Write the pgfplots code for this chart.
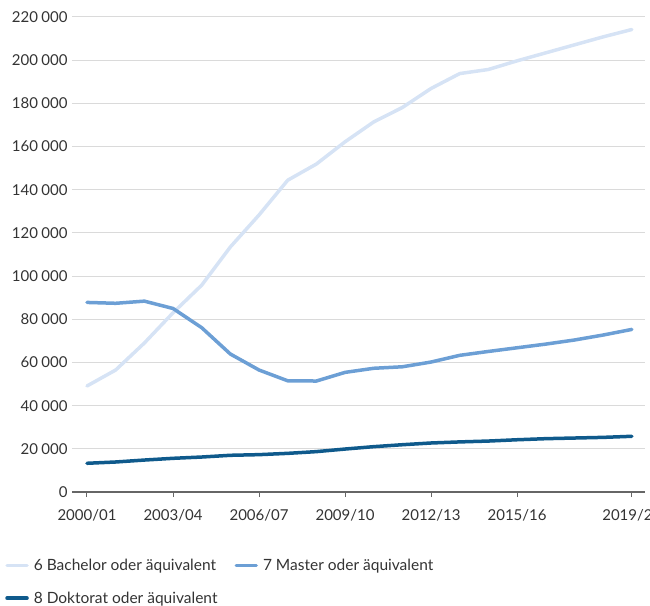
\documentclass[border=0pt]{standalone}
\usepackage{fontspec}
\setmainfont{Lato}
\usepackage{pgfplots}
\pgfplotsset{compat=1.18}
\definecolor{bach}{HTML}{D6E3F5}
\definecolor{mast}{HTML}{6C9FD5}
\definecolor{dokt}{HTML}{0F5A8C}
\definecolor{txt}{HTML}{333333}
\definecolor{gridc}{HTML}{DADADA}
\begin{document}
\begin{tikzpicture}
\begin{axis}[
  scale only axis, width=573pt, height=475pt,
  at={(0,0)}, anchor=south west,
  xmin=-0.523, xmax=19.46, ymin=0, ymax=220000,
  axis x line=bottom, axis y line=left,
  x axis line style={-, draw=black!60, line width=1.2pt},
  y axis line style={draw=none},
  xtick={0,3,6,9,12,15,19},
  xticklabels={2000/01,2003/04,2006/07,2009/10,2012/13,2015/16,2019/20},
  ytick={0,20000,...,220000},
  scaled y ticks=false,
  yticklabel style={xshift=4pt,/pgf/number format/fixed,/pgf/number format/1000 sep={\hspace{0.22em}}},
  xticklabel style={yshift=-9pt},
  /pgf/number format/assume math mode=true,
  tick align=outside, major tick length=5pt,
  xtick style={draw=black!60, line width=1pt},
  ytick style={draw=none},
  ymajorgrids, grid style={draw=gridc, line width=1pt},
  ticklabel style={font=\fontsize{15}{18}\selectfont, text=txt},
  legend columns=2,
  legend cell align=left,
  legend style={draw=none, fill=none, at={(-0.122,-0.134)}, anchor=north west,
    font=\fontsize{15.5}{18}\selectfont, text=txt, row sep=18pt,
    nodes={inner sep=1pt},
    /tikz/every odd column/.append style={column sep=4pt},
    /tikz/every even column/.append style={column sep=16pt}},
  legend image code/.code={\draw[line width=3.5pt, line cap=round] (0pt,0pt) -- (20pt,0pt);},
  every axis plot/.append style={line width=3.5pt, line join=round, line cap=round, mark=none},
]
\addplot[bach] coordinates {
(0,49100) (1,56500) (2,69000) (3,83000) (4,95800) (5,113500) (6,128300) (7,144400) (8,151900) (9,162200)
(10,171400) (11,178100) (12,186900) (13,193800) (14,195700) (15,199700) (16,203400) (17,207100) (18,210800) (19,214200)};
\addlegendentry{6 Bachelor oder äquivalent}
\addplot[mast] coordinates {
(0,87800) (1,87400) (2,88400) (3,85000) (4,76100) (5,63900) (6,56500) (7,51500) (8,51400) (9,55400)
(10,57300) (11,58000) (12,60200) (13,63300) (14,65100) (15,66800) (16,68500) (17,70400) (18,72700) (19,75300)};
\addlegendentry{7 Master oder äquivalent}
\addplot[dokt] coordinates {
(0,13300) (1,13900) (2,14800) (3,15600) (4,16200) (5,17000) (6,17300) (7,17900) (8,18700) (9,19900)
(10,21000) (11,21900) (12,22700) (13,23200) (14,23600) (15,24200) (16,24700) (17,25000) (18,25300) (19,25800)};
\addlegendentry{8 Doktorat oder äquivalent}
\end{axis}
\pgfresetboundingbox
\path[use as bounding box] (-72pt,-113pt) rectangle (578pt,492pt);
\end{tikzpicture}
\end{document}
